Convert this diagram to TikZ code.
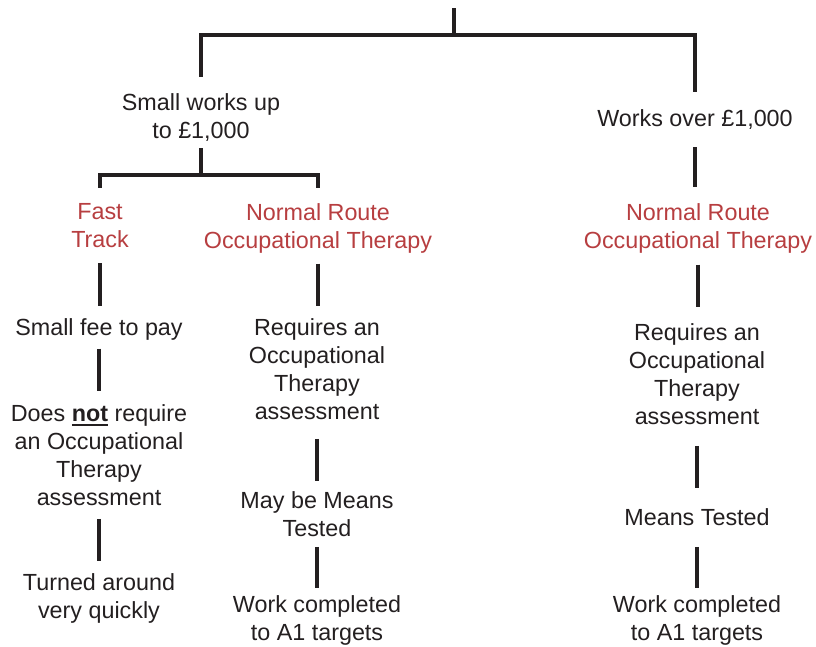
\documentclass[tikz,border=0pt]{standalone}
\usepackage{fontspec}
\setmainfont{Liberation Sans}
\newsavebox{\ulbox}
\newcommand{\ulword}[1]{\sbox{\ulbox}{\textbf{#1}}\rlap{\rule[-3pt]{\wd\ulbox}{1.4pt}}\usebox{\ulbox}}
\definecolor{routered}{RGB}{183,62,64}
\definecolor{inkgrey}{RGB}{35,31,32}

\begin{document}
\begin{tikzpicture}[x=0.75pt,y=-0.75pt,
    item/.style={align=center,inner sep=0pt,anchor=north,text=inkgrey,font=\fontsize{17.5pt}{21pt}\selectfont},
    route/.style={item,text=routered},
    link/.style={draw=inkgrey,line width=2.3pt}]
  \useasboundingbox (0,0) rectangle (816,646);
  % top level
  \coordinate (root) at (454,8);
  \coordinate (split) at (454,35);
  \node[item] (small) at (201,93.6) {Small works up\\to £1,000};
  \node[item] (over) at (695,109.6) {Works over £1,000};
  % routes
  \coordinate (barA) at (201,175);
  \node[route] (fast) at (100,203.6) {Fast\\Track};
  \node[route] (normA) at (318,203.6) {Normal Route\\Occupational Therapy};
  \node[route] (normB) at (698,203.6) {Normal Route\\Occupational Therapy};
  % fast track
  \node[item] (fee) at (99,318.6) {Small fee to pay};
  \node[item] (notreq) at (99,404.6) {Does \ulword{not} require\\an Occupational\\Therapy\\assessment};
  \node[item] (turned) at (99,573.6) {Turned around\\very quickly};
  % normal route, small works
  \node[item] (reqA) at (317,318.6) {Requires an\\Occupational\\Therapy\\assessment};
  \node[item] (maybe) at (317,491.6) {May be Means\\Tested};
  \node[item] (workA) at (317,595.6) {Work completed\\to A1 targets};
  % normal route, works over
  \node[item] (reqB) at (697,323.6) {Requires an\\Occupational\\Therapy\\assessment};
  \node[item] (means) at (697,508.6) {Means Tested};
  \node[item] (workB) at (697,595.6) {Work completed\\to A1 targets};

  \draw[link] (root) -- (split);
  \draw[link,shorten >=12.5pt] (split) -| (small.north);
  \draw[link,shorten >=13.2pt] (split) -| (over.north);
  \draw[link,shorten <=4.6pt] (small.south) -- (barA);
  \draw[link,shorten >=11.7pt] (barA) -| (fast.north);
  \draw[link,shorten >=11.7pt] (barA) -| (normA.north);
  \draw[link,shorten <=12.9pt,shorten >=12.5pt] (over.south) -- (over.south |- normB.north);
  \draw[link,shorten <=11pt,shorten >=9.5pt] (fast.south) -- (fast.south |- fee.north);
  \draw[link,shorten <=5.8pt,shorten >=10.2pt] (fee.south) -- (fee.south |- notreq.north);
  \draw[link,shorten <=9.5pt,shorten >=9.5pt] (notreq.south) -- (notreq.south |- turned.north);
  \draw[link,shorten <=7.3pt,shorten >=9.5pt] (normA.south) -- (normA.south |- reqA.north);
  \draw[link,shorten <=14pt,shorten >=8pt] (reqA.south) -- (reqA.south |- maybe.north);
  \draw[link,shorten <=7.2pt,shorten >=5.7pt] (maybe.south) -- (maybe.south |- workA.north);
  \draw[link,shorten <=8pt,shorten >=12.5pt] (normB.south) -- (normB.south |- reqB.north);
  \draw[link,shorten <=15.5pt,shorten >=15.5pt] (reqB.south) -- (reqB.south |- means.north);
  \draw[link,shorten <=15.5pt,shorten >=5.7pt] (means.south) -- (means.south |- workB.north);
\end{tikzpicture}
\end{document}
